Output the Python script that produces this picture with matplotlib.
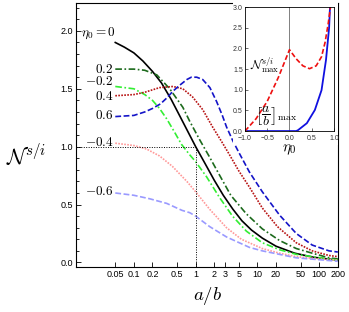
import numpy as np
import matplotlib
matplotlib.use("Agg")
import matplotlib.pyplot as plt
from matplotlib.patches import Rectangle

plt.rcParams['mathtext.fontset'] = 'cm'
plt.rcParams['font.family'] = ['Liberation Sans', 'DejaVu Sans']

# curves: (a/b, N^{s/i}) for each eta0
eta_0 = {
    "ab": [0.05, 0.07, 0.1, 0.14, 0.2, 0.28, 0.4, 0.56, 0.8, 1.0, 1.4, 2.0, 2.8, 4.0, 5.6, 8.0, 12, 20, 40, 80, 200],
    "N":  [1.90, 1.86, 1.81, 1.74, 1.65, 1.55, 1.41, 1.26, 1.10, 1.00, 0.86, 0.71, 0.58, 0.46, 0.36, 0.28, 0.21, 0.14, 0.08, 0.045, 0.02],
}
eta_p02 = {
    "ab": [0.05, 0.1, 0.15, 0.235, 0.38, 0.62, 0.8, 1.16, 1.68, 2.4, 3.7, 6.6, 12, 22.7, 42.5, 77, 144, 200],
    "N":  [1.67, 1.67, 1.66, 1.62, 1.50, 1.34, 1.22, 1.06, 0.91, 0.76, 0.58, 0.42, 0.29, 0.19, 0.12, 0.08, 0.04, 0.03],
}
eta_p04 = {
    "ab": [0.05, 0.1, 0.15, 0.26, 0.43, 0.62, 0.89, 1.30, 1.88, 2.73, 3.53, 5.0, 7.43, 12, 21, 42.5, 77, 144, 200],
    "N":  [1.44, 1.45, 1.47, 1.51, 1.52, 1.50, 1.43, 1.32, 1.17, 1.03, 0.93, 0.79, 0.65, 0.47, 0.31, 0.17, 0.10, 0.06, 0.05],
}
eta_p06 = {
    "ab": [0.05, 0.1, 0.15, 0.2, 0.27, 0.34, 0.43, 0.55, 0.72, 0.85, 1.04, 1.3, 1.7, 2.18, 2.7, 3.16, 4.0, 5.0, 7.43, 12, 22.7, 42.5, 77, 144, 200],
    "N":  [1.26, 1.27, 1.30, 1.33, 1.37, 1.42, 1.48, 1.53, 1.58, 1.60, 1.60, 1.58, 1.51, 1.39, 1.27, 1.17, 1.05, 0.95, 0.78, 0.61, 0.41, 0.25, 0.15, 0.10, 0.09],
}
eta_m02 = {
    "ab": [0.05, 0.1, 0.15, 0.2, 0.26, 0.34, 0.45, 0.59, 0.8, 1.0, 1.5, 2.44, 3.95, 6.63, 12, 22.7, 42.5, 77, 144, 200],
    "N":  [1.52, 1.50, 1.45, 1.40, 1.33, 1.24, 1.13, 1.02, 0.93, 0.87, 0.74, 0.56, 0.40, 0.27, 0.17, 0.11, 0.07, 0.05, 0.03, 0.02],
}
eta_m04 = {
    "ab": [0.05, 0.1, 0.16, 0.26, 0.42, 0.72, 1.0, 1.68, 3.16, 5.5, 12, 22.7, 42.5, 100, 200],
    "N":  [1.03, 1.01, 0.98, 0.92, 0.83, 0.70, 0.61, 0.46, 0.30, 0.20, 0.12, 0.08, 0.05, 0.03, 0.02],
}
eta_m06 = {
    "ab": [0.05, 0.1, 0.18, 0.34, 0.6, 0.8, 1.0, 1.68, 3.16, 7.43, 12, 42.5, 200],
    "N":  [0.60, 0.58, 0.55, 0.51, 0.45, 0.43, 0.40, 0.31, 0.22, 0.13, 0.10, 0.04, 0.01],
}

# inset: maxima versus eta0
inset_eta_N = [-1.0, -0.75, -0.5, -0.25, 0.0, 0.15, 0.3, 0.45, 0.6, 0.72, 0.8, 0.87, 0.92]
inset_Nmax = [0.0, 0.3, 0.72, 1.3, 1.97, 1.75, 1.58, 1.51, 1.58, 1.80, 2.15, 2.6, 3.0]
inset_eta_ab = [-1.0, 0.15, 0.19, 0.39, 0.57, 0.72, 0.82, 0.89, 0.91]
inset_abmax = [0.0, 0.0, 0.02, 0.19, 0.51, 0.99, 1.72, 2.5, 3.0]

xticks = [0.05, 0.1, 0.2, 0.5, 1, 2, 3, 5, 10, 20, 50, 100, 200]
xticklabels = ["0.05", "0.1", "0.2", "0.5", "1", "2", "3", "5", "10", "20", "50", "100", "200"]

fig = plt.figure(figsize=(3.49, 3.12), dpi=100)
ax = fig.add_axes([0.218, 0.144, 0.750, 0.846])

curves = [
    (eta_0,   "black",   "-",                 r"$\eta_0=0$", 1.98),
    (eta_p02, "#1c6a1c", (0, (4, 1.5, 1, 1.5)), r"$0.2$", 1.67),
    (eta_m02, "#33ee33", (0, (4, 1.5, 1, 1.5)), r"$-0.2$", 1.56),
    (eta_p04, "#b81414", (0, (1, 0.8)),        r"$0.4$", 1.43),
    (eta_p06, "#1414c8", (0, (3.5, 1.5)),      r"$0.6$", 1.27),
    (eta_m04, "#ff9a9a", (0, (1, 0.8)),        r"$-0.4$", 1.04),
    (eta_m06, "#9a9aff", (0, (3.5, 1.5)),      r"$-0.6$", 0.61),
]
for d, c, ls, lab, ly in curves:
    ax.plot(d["ab"], d["N"], color=c, ls=ls, lw=1.2)
    ax.text(0.047 if lab != r"$\eta_0=0$" else 0.052, ly, lab, ha="right", va="center", fontsize=9.5)

ax.plot([0.0116, 1], [1, 1], color="black", ls=(0, (1, 1.5)), lw=0.7)
ax.plot([1, 1], [-0.04, 1], color="black", ls=(0, (1, 1.5)), lw=0.7)

ax.set_xscale("log")
ax.set_xlim(0.0116, 200)
ax.set_ylim(-0.04, 2.24)
ax.set_xticks(xticks)
ax.set_xticklabels(xticklabels)
ax.xaxis.set_minor_locator(matplotlib.ticker.NullLocator())
ax.set_yticks([0, 0.5, 1.0, 1.5, 2.0])
ax.set_yticklabels(["0.0", "0.5", "1.0", "1.5", "2.0"])
ax.yaxis.set_minor_locator(matplotlib.ticker.MultipleLocator(0.1))
ax.tick_params(which="both", direction="in", labelsize=6.5, pad=2, width=0.6)
ax.tick_params(which="major", length=3.5)
ax.tick_params(which="minor", length=2)
for s in ax.spines.values():
    s.set_linewidth(0.8)

fig.text(0.074, 0.497, r"$\mathcal{N}^{s/i}$", fontsize=15.5, ha="center", va="center")
fig.text(0.595, 0.052, r"$a/b$", fontsize=13.5, ha="center", va="center")

# white area behind the inset
ax.add_patch(Rectangle((0.668, 0.535), 0.30, 0.465, transform=fig.transFigure,
                       facecolor="white", edgecolor="none", zorder=5, clip_on=False))

ins = fig.add_axes([0.702, 0.580, 0.255, 0.397])
ins.axvline(0, color="gray", lw=0.7)
ins.plot(inset_eta_ab, inset_abmax, color="#1010e0", lw=1.3)
ins.plot(inset_eta_N, inset_Nmax, color="#ee1010", ls=(0, (3, 1.5)), lw=1.2)
ins.set_xlim(-1, 1)
ins.set_ylim(0, 3)
ins.set_xticks([-1.0, -0.5, 0.0, 0.5, 1.0])
ins.set_xticklabels(["\u22121.0", "\u22120.5", "0.0", "0.5", "1.0"])
ins.set_yticks([0, 0.5, 1.0, 1.5, 2.0, 2.5, 3.0])
ins.set_yticklabels(["0.0", "0.5", "1.0", "1.5", "2.0", "2.5", "3.0"])
ins.tick_params(direction="in", labelsize=5, length=2, width=0.5, colors="#333333")
ins.tick_params(axis="x", pad=2.5)
ins.tick_params(axis="y", pad=1.5)
for s in ins.spines.values():
    s.set_linewidth(0.6)
ins.set_xlabel(r"$\eta_0$", fontsize=11, labelpad=0.5)
ins.text(-0.55, 1.6, r"$\mathcal{N}^{s/i}_{\max}$", fontsize=9, ha="center", va="center")
ins.text(-0.3, 0.36, r"$\left[\dfrac{a}{b}\right]_{\max}$", fontsize=10, ha="center", va="center")

fig.savefig("out.png", dpi=100)
